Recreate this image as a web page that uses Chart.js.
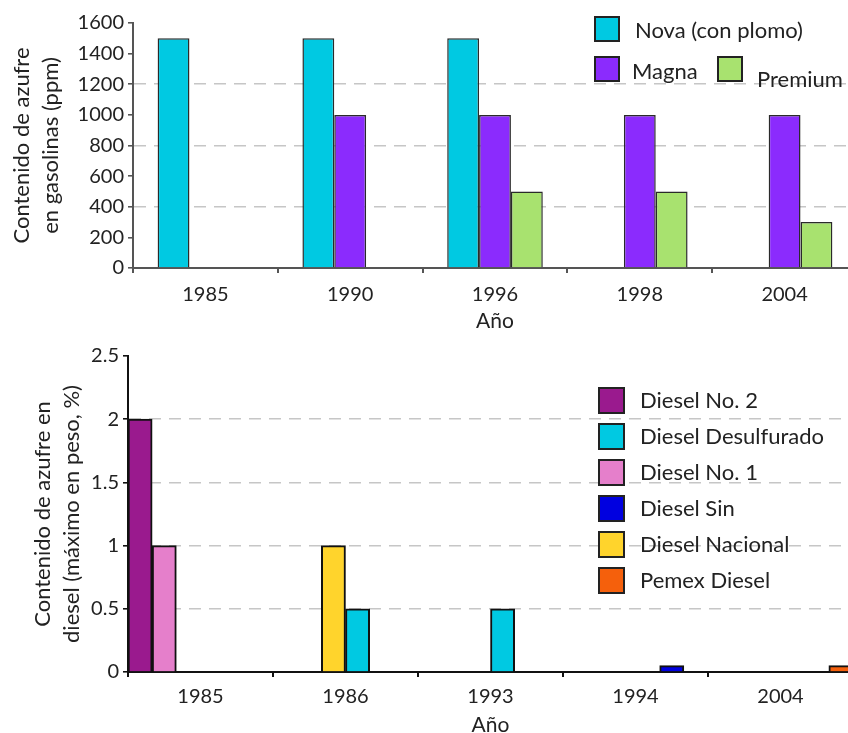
<!DOCTYPE html>
<html lang="es">
<head>
<meta charset="utf-8">
<title>Contenido de azufre en gasolinas y diesel</title>
<script src="https://cdn.jsdelivr.net/npm/chart.js@4.4.1/dist/chart.umd.min.js"></script>
<style>
  html, body { margin: 0; padding: 0; background: #fff; overflow: hidden; width: 848px; height: 733px; }
  .panel { position: absolute; left: 0; }
  #gasPanel { top: 0; width: 860px; height: 340px; }
  #dieselPanel { top: 340px; width: 860px; height: 400px; }
</style>
</head>
<body>
<div class="panel" id="gasPanel"><canvas id="gasChart" width="860" height="340"></canvas></div>
<div class="panel" id="dieselPanel"><canvas id="dieselChart" width="860" height="400"></canvas></div>
<script>
// Gasolinas: contenido de azufre (ppm)
const gasYears = ['1985', '1990', '1996', '1998', '2004'];
const novaPpm = [1500, 1500, 1500, null, null];
const magnaPpm = [null, 1000, 1000, 1000, 1000];
const premiumPpm = [null, null, 500, 500, 300];

// Diesel: contenido de azufre (máximo en peso, %)
const dieselYears = ['1985', '1986', '1993', '1994', '2004'];
const dieselNo2 = [2, null, null, null, null];
const dieselNo1 = [1, null, null, null, null];
const dieselNacional = [null, 1, null, null, null];
const dieselDesulfurado = [null, 0.5, 0.5, null, null];
const dieselSin = [null, null, null, 0.05, null];
const pemexDiesel = [null, null, null, null, 0.05];

const FONT = 'Lato, "Open Sans", sans-serif';
const INK = '#222';

// Legend drawn at fixed spots inside the plot, boxes + labels taken from the datasets
const boxLegend = {
  id: 'boxLegend',
  afterDraw(chart, args, opts) {
    const ctx = chart.ctx;
    ctx.save();
    ctx.font = opts.fontSize + 'px ' + FONT;
    ctx.textBaseline = 'alphabetic';
    ctx.textAlign = 'left';
    opts.items.forEach(it => {
      const ds = chart.data.datasets[it.ds];
      ctx.fillStyle = ds.backgroundColor;
      ctx.fillRect(it.x, it.y, opts.box, opts.box);
      ctx.lineWidth = 2;
      ctx.strokeStyle = INK;
      ctx.strokeRect(it.x, it.y, opts.box, opts.box);
      ctx.fillStyle = INK;
      ctx.fillText(ds.label, it.tx, it.ty);
    });
    ctx.restore();
  }
};

function dashedEvery(step, max, color) {
  return ctx => {
    const v = ctx.tick ? ctx.tick.value : null;
    if (v === null) return 'rgba(0,0,0,0)';
    const k = v / step;
    return (v > 0 && v < max && Math.abs(k - Math.round(k)) < 1e-6) ? color : 'rgba(0,0,0,0)';
  };
}

function baseOptions(cfg) {
  return {
    responsive: false,
    animation: false,
    events: [],
    layout: { padding: { top: cfg.padTop, right: cfg.padRight, left: 0, bottom: 0 } },
    plugins: {
      legend: { display: false },
      tooltip: { enabled: false },
      boxLegend: cfg.legend
    },
    datasets: { bar: { categoryPercentage: cfg.catPct, barPercentage: 1.0 } },
    scales: {
      x: {
        grid: { drawOnChartArea: false, drawTicks: true, tickLength: 5, tickColor: cfg.axisColor, lineWidth: 2, offset: true },
        border: { color: cfg.axisColor, width: 2 },
        ticks: { color: INK, font: { family: FONT, size: 20 }, padding: cfg.xTickPad, maxRotation: 0 },
        title: { display: true, text: 'Año', color: INK, font: { family: FONT, size: 21 }, padding: { top: 0, bottom: cfg.xTitlePad } },
        afterFit(scale) { scale.height = cfg.xHeight; }
      },
      y: {
        min: 0,
        max: cfg.yMax,
        ticks: {
          stepSize: cfg.yStep, color: INK, font: { family: FONT, size: 20 }, padding: 4,
          callback: v => String(Math.round(v * 100) / 100)
        },
        grid: { color: dashedEvery(cfg.gridStep, cfg.yMax, '#c6c6c6'), lineWidth: 1.6, tickColor: cfg.axisColor, tickLength: 5 },
        border: { color: cfg.axisColor, width: 2, dash: [12, 8] },
        title: { display: true, text: cfg.yTitle, color: INK, font: { family: FONT, size: 22, lineHeight: 1.32 }, padding: { top: cfg.yTitlePad, bottom: 0 } },
        afterFit(scale) { scale.width = cfg.yWidth; }
      }
    }
  };
}

new Chart(document.getElementById('gasChart'), {
  type: 'bar',
  data: {
    labels: gasYears,
    datasets: [
      { label: 'Nova (con plomo)', data: novaPpm, backgroundColor: '#00c9e2', borderColor: '#2a2a2a', borderWidth: 1.5 },
      { label: 'Magna', data: magnaPpm, backgroundColor: '#8b2bfd', borderColor: '#2a2a2a', borderWidth: 1.5 },
      { label: 'Premium', data: premiumPpm, backgroundColor: '#a8e26f', borderColor: '#2a2a2a', borderWidth: 1.5 }
    ]
  },
  options: baseOptions({
    padTop: 23, padRight: 3, catPct: 0.66, axisColor: '#555',
    xTickPad: 10, xTitlePad: 6, xHeight: 72,
    yMax: 1600, yStep: 200, gridStep: 400, yWidth: 133, yTitlePad: 7,
    yTitle: ['Contenido de azufre', 'en gasolinas (ppm)'],
    legend: {
      fontSize: 22, box: 24,
      items: [
        { ds: 0, x: 595, y: 17, tx: 635, ty: 38 },
        { ds: 1, x: 595, y: 57, tx: 632, ty: 79 },
        { ds: 2, x: 718, y: 57, tx: 757, ty: 87 }
      ]
    }
  }),
  plugins: [boxLegend]
});

new Chart(document.getElementById('dieselChart'), {
  type: 'bar',
  data: {
    labels: dieselYears,
    datasets: [
      { label: 'Diesel No. 2', data: dieselNo2, backgroundColor: '#9a1a8e', borderColor: '#111', borderWidth: 2 },
      { label: 'Diesel No. 1', data: dieselNo1, backgroundColor: '#e57fcb', borderColor: '#111', borderWidth: 2 },
      { label: 'Diesel Nacional', data: dieselNacional, backgroundColor: '#ffd42c', borderColor: '#111', borderWidth: 2 },
      { label: 'Diesel Desulfurado', data: dieselDesulfurado, backgroundColor: '#00c9e2', borderColor: '#111', borderWidth: 2 },
      { label: 'Diesel Sin', data: dieselSin, backgroundColor: '#0000e0', borderColor: '#111', borderWidth: 2 },
      { label: 'Pemex Diesel', data: pemexDiesel, backgroundColor: '#f5600c', borderColor: '#111', borderWidth: 2 }
    ]
  },
  options: baseOptions({
    padTop: 15, padRight: 7, catPct: 1.0, axisColor: '#111',
    xTickPad: 8, xTitlePad: 2, xHeight: 68,
    yMax: 2.5, yStep: 0.5, gridStep: 0.5, yWidth: 128, yTitlePad: 28,
    yTitle: ['Contenido de azufre en', 'diesel (máximo en peso, %)'],
    legend: {
      fontSize: 22, box: 25,
      items: [
        { ds: 0, x: 599, y: 48, tx: 640, ty: 68 },
        { ds: 3, x: 599, y: 84, tx: 640, ty: 104 },
        { ds: 1, x: 599, y: 120, tx: 640, ty: 140 },
        { ds: 4, x: 599, y: 156, tx: 640, ty: 176 },
        { ds: 2, x: 599, y: 192, tx: 640, ty: 212 },
        { ds: 5, x: 599, y: 228, tx: 640, ty: 248 }
      ]
    }
  }),
  plugins: [boxLegend]
});
</script>
</body>
</html>
